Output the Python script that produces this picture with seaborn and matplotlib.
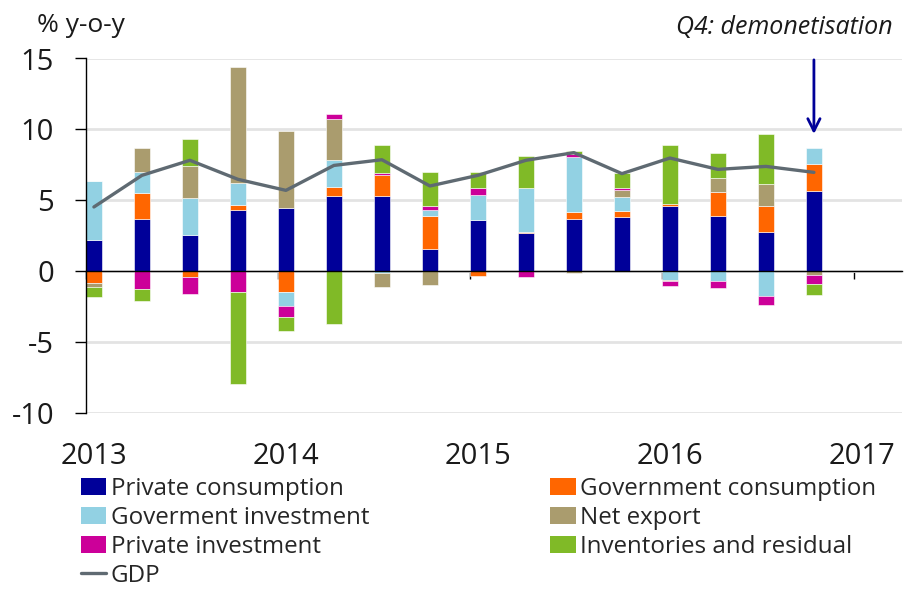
import numpy as np
import pandas as pd
import matplotlib
matplotlib.use('Agg')
import matplotlib.pyplot as plt
from matplotlib.patches import Patch
from matplotlib.lines import Line2D
import seaborn as sns

# quarterly contributions to GDP growth, % y-o-y (2013Q1 .. 2016Q4)
quarters = ['2013Q1', '2013Q2', '2013Q3', '2013Q4', '2014Q1', '2014Q2', '2014Q3', '2014Q4',
            '2015Q1', '2015Q2', '2015Q3', '2015Q4', '2016Q1', '2016Q2', '2016Q3', '2016Q4']
private_consumption = [2.18, 3.71, 2.54, 4.30, 4.44, 5.31, 5.31, 1.60, 3.59, 2.70, 3.71, 3.83, 4.58, 3.90, 2.79, 5.68]
government_consumption = [-0.82, 1.81, -0.38, 0.35, -1.50, 0.66, 1.46, 2.30, -0.35, 0.09, 0.45, 0.40, 0.19, 1.67, 1.78, 1.90]
government_investment = [4.15, 1.48, 2.63, 1.57, -0.92, 1.85, -0.10, 0.40, 1.76, 3.08, 3.90, 1.01, -0.63, -0.70, -1.76, 1.10]
net_export = [-0.28, 1.71, 2.25, 8.19, 5.42, 2.89, -0.99, -0.99, 0.0, 0.0, -0.10, 0.47, -0.09, 1.03, 1.57, -0.30]
private_investment = [0.0, -1.29, -1.20, -1.50, -0.80, 0.40, 0.12, 0.30, 0.54, -0.40, 0.23, 0.19, -0.30, -0.47, -0.59, -0.61]
inventories = [-0.70, -0.80, 1.88, -6.48, -0.99, -3.73, 2.04, 2.39, 1.10, 2.25, 0.16, 1.03, 4.15, 1.74, 3.54, -0.77]
gdp = [4.53, 6.76, 7.82, 6.48, 5.70, 7.46, 7.86, 6.01, 6.76, 7.82, 8.36, 6.88, 7.98, 7.18, 7.39, 6.97]

years = ['2013', '2014', '2015', '2016', '2017']
y_ticks = [-10, -5, 0, 5, 10, 15]

series = [
    ('Private consumption', private_consumption, '#000099'),
    ('Government consumption', government_consumption, '#FF6600'),
    ('Goverment investment', government_investment, '#92D1E3'),
    ('Net export', net_export, '#AA9C6E'),
    ('Private investment', private_investment, '#CC0099'),
    ('Inventories and residual', inventories, '#80BA27'),
]

sns.set_theme(style='white')
plt.rcParams['font.family'] = ['Open Sans', 'DejaVu Sans']
plt.rcParams['axes.unicode_minus'] = False

fig = plt.figure(figsize=(9.09, 5.92), dpi=100)
ax = fig.add_axes([86 / 909, 1 - 413 / 592, 816 / 909, 354.5 / 592])

bar_w = 0.33
qpos = np.arange(len(quarters))
centers = qpos + bar_w / 2

# stack positives and negatives separately, excel style
pos_bottom = np.zeros(len(quarters))
neg_bottom = np.zeros(len(quarters))
for name, vals, col in series:
    vals = np.array(vals)
    bottom = np.where(vals >= 0, pos_bottom, neg_bottom)
    df = pd.DataFrame({'x': centers, 'y': vals})
    sns.barplot(data=df, x='x', y='y', native_scale=True, width=bar_w, bottom=bottom,
                color=col, saturation=1, errorbar=None, edgecolor='white', linewidth=0.4, ax=ax)
    pos_bottom = pos_bottom + np.where(vals > 0, vals, 0)
    neg_bottom = neg_bottom + np.where(vals < 0, vals, 0)

sns.lineplot(x=centers, y=gdp, color='#5F6A72', linewidth=2.4, ax=ax)

ax.set_xlim(0, 17)
ax.set_ylim(-10, 15)
ax.set_xlabel('')
ax.set_ylabel('')

# year ticks on the zero line, labels at the bottom
ax.spines['bottom'].set_position(('data', 0))
ax.spines['bottom'].set_color('black')
ax.spines['bottom'].set_linewidth(1)
ax.spines['left'].set_color('black')
ax.spines['left'].set_linewidth(1)
ax.spines['top'].set_visible(False)
ax.spines['right'].set_visible(False)
year_pos = np.arange(len(years)) * 4
ax.set_xticks(year_pos, [''] * len(years))
ax.set_xticks(year_pos + bar_w / 2, years, minor=True)
ax.tick_params(axis='x', which='major', direction='out', length=6, width=1, color='black', bottom=True)
ax.tick_params(axis='x', which='minor', length=0, pad=123, labelsize=21, labelcolor='#1a1a1a')

ax.set_yticks(y_ticks)
ax.tick_params(axis='y', direction='out', length=8, width=1, color='black', left=True, pad=15,
               labelsize=21, labelcolor='#1a1a1a')
ax.yaxis.grid(True, color='#E3E3E3', linewidth=2)
ax.set_axisbelow(True)

# demonetisation arrow over last quarter
top_last = pos_bottom[-1]
ax.annotate('', xy=(centers[-1], top_last + 0.8), xytext=(centers[-1], 15.1),
            arrowprops=dict(arrowstyle='->', color='#000099', lw=2, mutation_scale=22),
            annotation_clip=False)

fig.text(37 / 909, 1 - 25 / 592, '% y-o-y', fontsize=19, ha='left', va='center', color='#1a1a1a')
fig.text(893 / 909, 1 - 28 / 592, 'Q4: demonetisation', fontsize=18, style='italic',
         ha='right', va='center', color='#1a1a1a')

# legend: two columns
h = {name: Patch(facecolor=col, edgecolor='none') for name, vals, col in series}
gdp_handle = Line2D([0], [0], color='#5F6A72', lw=2.4)
order = ['Private consumption', 'Goverment investment', 'Private investment', None,
         'Government consumption', 'Net export', 'Inventories and residual']
handles = [h[n] if n else gdp_handle for n in order]
labels = [n if n else 'GDP' for n in order]
fig.legend(handles, labels, loc='upper left', bbox_to_anchor=(81 / 909, 1 - 477 / 592), ncol=2,
           frameon=False, fontsize=17.4, handlelength=1.05, handletextpad=0.18, columnspacing=7.5,
           labelspacing=0.2, borderpad=0, borderaxespad=0)

fig.savefig('out.png', dpi=100)
